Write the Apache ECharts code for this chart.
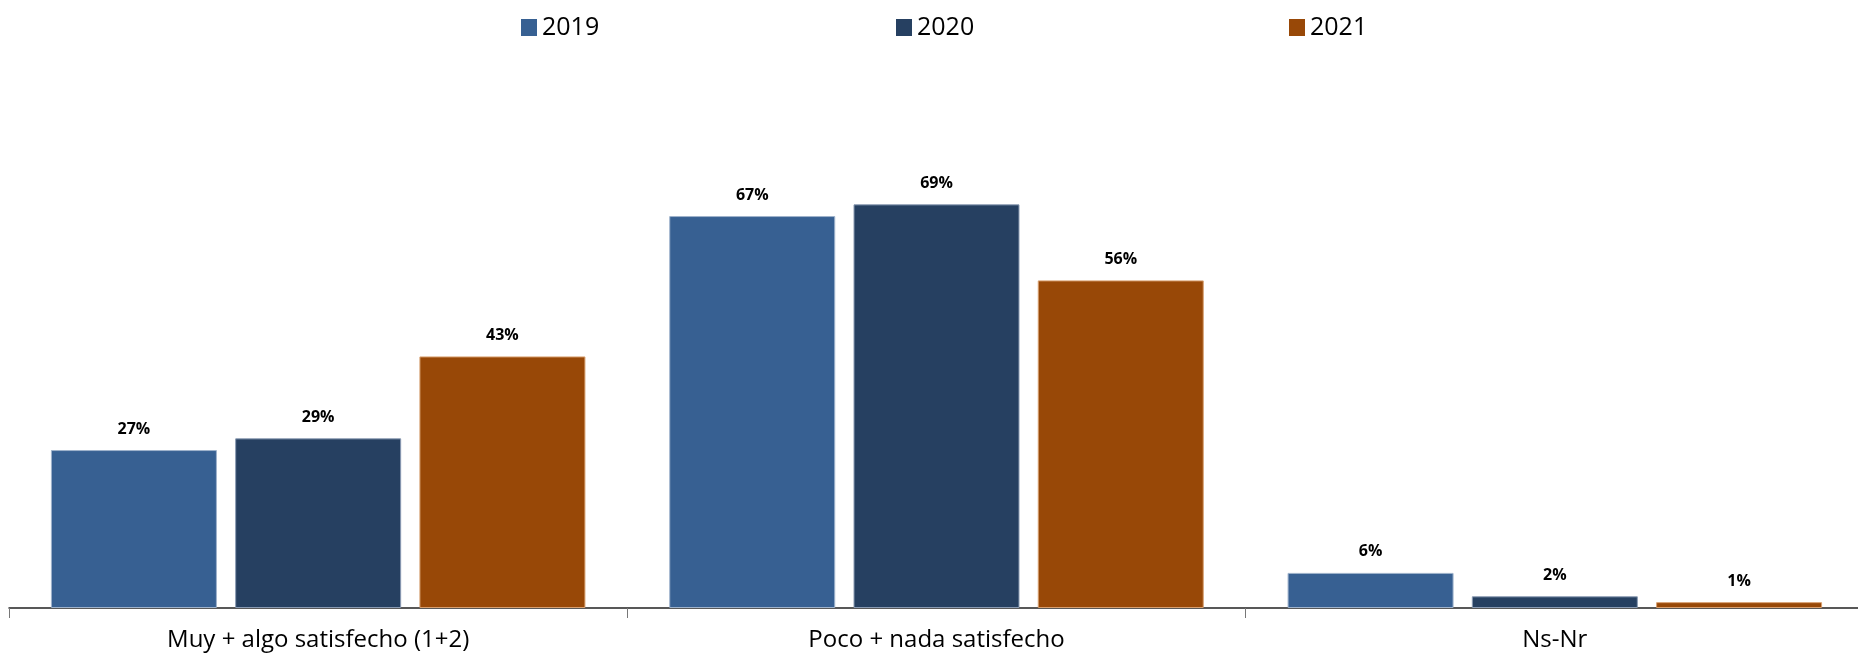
<!DOCTYPE html>
<html><head><meta charset="utf-8">
<script src="https://cdn.jsdelivr.net/npm/echarts@6/dist/echarts.min.js"></script>
<style>html,body{margin:0;padding:0;background:#fff}#c{width:1858px;height:658px}</style>
</head><body><div id="c"></div>
<script>
const categories = ["Muy + algo satisfecho (1+2)", "Poco + nada satisfecho", "Ns-Nr"];
const seriesNames = ["2019", "2020", "2021"];
const v2019 = [27, 67, 6];
const v2020 = [29, 69, 2];
const v2021 = [43, 56, 1];
const colors = ["#376092", "#264061", "#984807"];
const borders = ["#9fb3cc", "#8a9bb3", "#d8a070"];

const font = "'Open Sans', 'Noto Sans', sans-serif";
const data = [v2019, v2020, v2021];
const legendLeft = [516, 891, 1284];

const chart = echarts.init(document.getElementById('c'));
chart.setOption({
  animation: false,
  legend: seriesNames.map((n, i) => ({
    data: [n], left: legendLeft[i], top: 10, itemWidth: 16, itemHeight: 17, itemGap: 8,
    icon: 'rect', itemStyle: {borderWidth: 0},
    textStyle: {fontFamily: font, fontSize: 25, color: '#000'}
  })),
  grid: {left: 9, right: -6, top: 23, bottom: 50, containLabel: false, outerBoundsMode: 'none'},
  xAxis: {
    type: 'category', data: categories,
    axisLine: {lineStyle: {color: '#222', width: 1.5}},
    axisTick: {show: true, length: 10, lineStyle: {color: '#777'}},
    axisLabel: {fontFamily: font, fontSize: 24, color: '#000', margin: 20}
  },
  yAxis: {type: 'value', min: 0, max: 100, show: false, splitLine: {show: false}},
  series: seriesNames.map((n, i) => ({
    name: n, type: 'bar', data: data[i], barWidth: 166, barGap: '11%',
    itemStyle: {color: colors[i], borderColor: borders[i], borderWidth: 1},
    label: {show: true, position: 'top', distance: 13, formatter: '{c}%',
      fontFamily: font, fontSize: 16, fontWeight: 'bold', color: '#000'}
  }))
});
</script></body></html>
